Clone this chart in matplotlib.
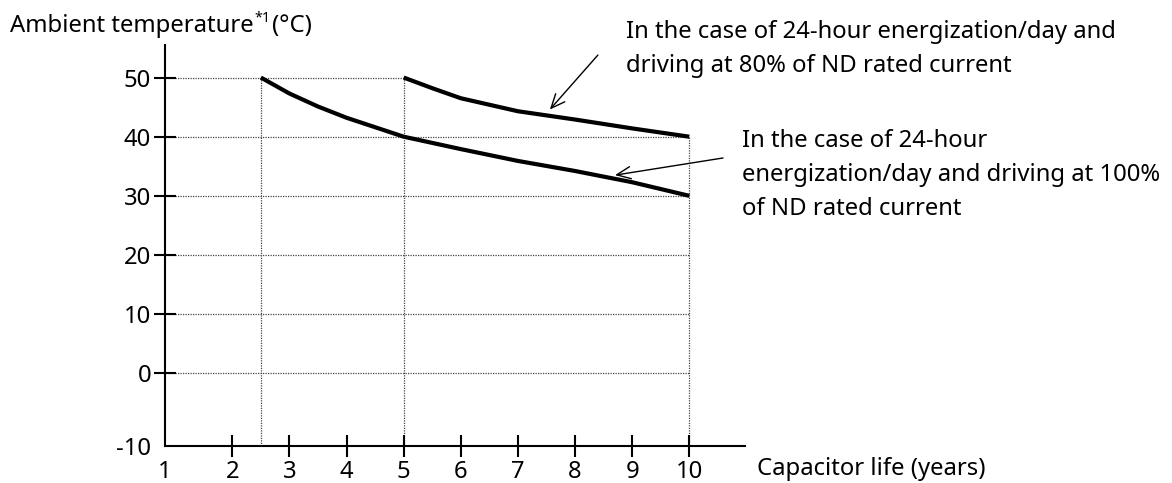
import numpy as np
import matplotlib
matplotlib.use("Agg")
import matplotlib.pyplot as plt

# Capacitor life vs ambient temperature
years_100 = [2.5, 3, 3.5, 4, 4.5, 5, 6, 7, 8, 9, 10]
temp_100 = [50, 47.3, 45.1, 43.2, 41.6, 40, 37.9, 35.9, 34.2, 32.3, 30]
years_80 = [5, 5.5, 6, 7, 8, 9, 10]
temp_80 = [50, 48.2, 46.5, 44.3, 42.9, 41.4, 40]

x_ticks = [1, 2, 3, 4, 5, 6, 7, 8, 9, 10]
y_ticks = [-10, 0, 10, 20, 30, 40, 50]

label_80 = "In the case of 24-hour energization/day and\ndriving at 80% of ND rated current"
label_100 = "In the case of 24-hour\nenergization/day and driving at 100%\nof ND rated current"

plt.rcParams['font.family'] = ['Noto Sans', 'DejaVu Sans']
FS = 17.2

# the first x interval and the lowest y interval are drawn a little wider
KX, KY = 1.178, 1.224


def fx(x):
    x = np.asarray(x, float)
    return np.where(x < 2, 2 - (2 - x) * KX, x)


def fx_inv(u):
    u = np.asarray(u, float)
    return np.where(u < 2, 2 - (2 - u) / KX, u)


def fy(y):
    y = np.asarray(y, float)
    return np.where(y < 0, y * KY, y)


def fy_inv(u):
    u = np.asarray(u, float)
    return np.where(u < 0, u / KY, u)


fig = plt.figure(figsize=(11.72, 4.83), dpi=100)
ax = fig.add_axes([165 / 1172, 1 - 445.7 / 483, 580 / 1172, 400.7 / 483])
ax.set_xscale('function', functions=(fx, fx_inv))
ax.set_yscale('function', functions=(fy, fy_inv))
ax.set_xlim(1, 10.975)
ax.set_ylim(-10, 55.5)

dot = dict(color='#444444', lw=0.9, ls=(0, (1, 1)), zorder=1)
# horizontal guides
ax.plot([1, 5], [50, 50], **dot)
for yv in [40, 30, 20, 10, 0]:
    ax.plot([1, 10], [yv, yv], **dot)
# vertical guides
ax.plot([2.5, 2.5], [-10, 50], **dot)
ax.plot([5, 5], [-10, 50], **dot)
ax.plot([10, 10], [-10, 40], **dot)

ax.plot(years_100, temp_100, color='black', lw=3, solid_capstyle='butt', zorder=3)
ax.plot(years_80, temp_80, color='black', lw=3, solid_capstyle='butt', zorder=3)

for s in ['top', 'right']:
    ax.spines[s].set_visible(False)
for s in ['left', 'bottom']:
    ax.spines[s].set_linewidth(1.5)

ax.set_xticks(x_ticks)
ax.set_xticklabels([str(v) for v in x_ticks])
ax.set_yticks(y_ticks)
ax.set_yticklabels([str(v) for v in y_ticks])
ax.tick_params(axis='x', direction='inout', length=16, width=1.5, pad=2, labelsize=FS)
ax.tick_params(axis='y', direction='inout', length=16, width=1.5, pad=2, labelsize=FS)
ax.xaxis.get_major_ticks()[0].tick1line.set_visible(False)
ax.yaxis.get_major_ticks()[0].tick1line.set_visible(False)

# annotations with arrows
arrow = dict(arrowstyle='->,head_length=0.5,head_width=0.22', lw=1, color='black',
             shrinkA=0, shrinkB=0, mutation_scale=20)
ax.annotate('', xy=(7.56, 44.6), xytext=(8.40, 53.8), arrowprops=arrow,
            annotation_clip=False)
ax.annotate('', xy=(8.70, 33.5), xytext=(10.59, 36.4), arrowprops=arrow,
            annotation_clip=False)

fig.text(626 / 1172, 1 - 72 / 483, label_80, fontsize=FS, ha='left', va='baseline',
         linespacing=1.55)
fig.text(741.7 / 1172, 1 - 215 / 483, label_100, fontsize=FS, ha='left',
         va='baseline', linespacing=1.55)

# y-axis title with superscript note mark
fig.canvas.draw()
r = fig.canvas.get_renderer()
t1 = fig.text(10 / 1172, 1 - 31.7 / 483, "Ambient temperature", fontsize=FS,
              ha='left', va='baseline')
bb = t1.get_window_extent(r)
t2 = fig.text(bb.x1 / 1172 + 0.001, 1 - 22 / 483, "*1", fontsize=FS * 0.6,
              ha='left', va='baseline')
bb2 = t2.get_window_extent(r)
fig.text(bb2.x1 / 1172 + 0.001, 1 - 31.7 / 483, "(°C)", fontsize=FS,
         ha='left', va='baseline')

fig.text(757 / 1172, 1 - 475 / 483, "Capacitor life (years)", fontsize=FS,
         ha='left', va='baseline')

fig.savefig('out.png', dpi=100)
